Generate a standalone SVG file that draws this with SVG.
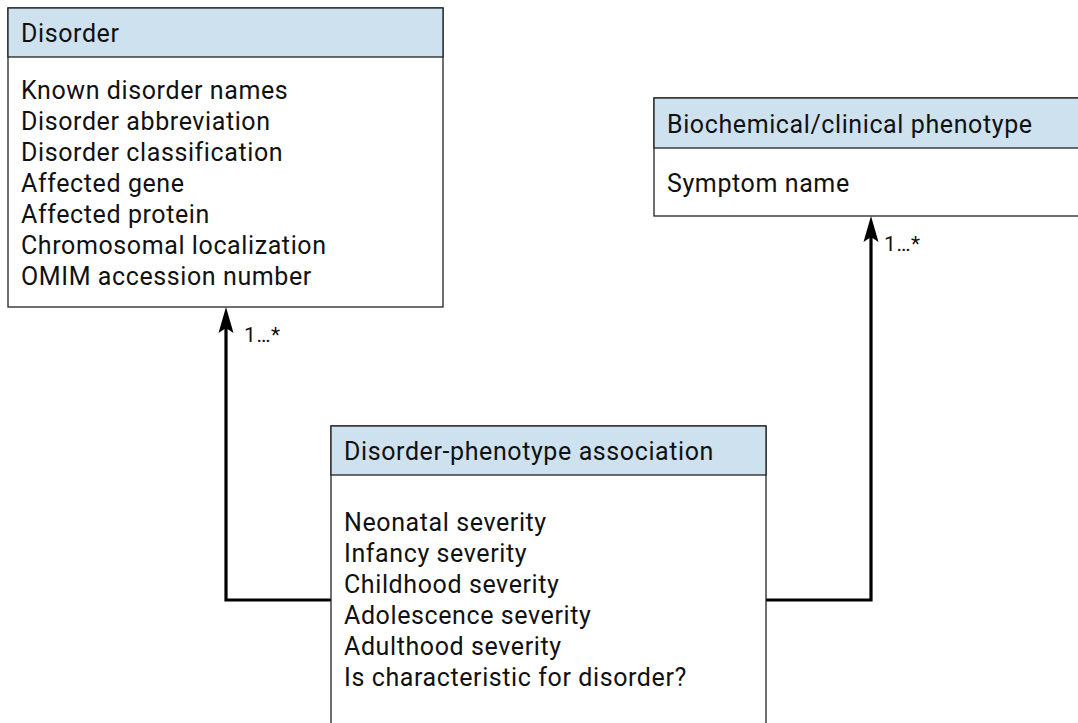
<svg xmlns="http://www.w3.org/2000/svg" width="1078" height="723" viewBox="0 0 1078 723">
<style>
.box{fill:#fff;stroke:#222;stroke-width:1.3}
.hdr{fill:#cde1ef;stroke:#222;stroke-width:1.3}
text{font-family:Roboto,"Liberation Sans",sans-serif;fill:#111}
.t{font-size:25px;letter-spacing:0.6px}
.lbl{font-size:21px;letter-spacing:0.6px}
.conn{fill:none;stroke:#000;stroke-width:3.2}
</style>
<defs>
<marker id="arr" viewBox="0 -8 26 16" refX="17" refY="0" markerWidth="26" markerHeight="16" markerUnits="userSpaceOnUse" orient="auto">
<path d="M0,-7.5 L26,0 L0,7.5 L5,0 Z" fill="#000"/>
</marker>
</defs>
<g id="connectors">
<path class="conn" d="M331,600 H226 V316" marker-end="url(#arr)"/>
<path class="conn" d="M766,600 H871 V225" marker-end="url(#arr)"/>
<text class="lbl" x="244" y="342">1…*</text>
<text class="lbl" x="884" y="251">1…*</text>
</g>
<g id="disorder">
<rect class="box" x="8" y="8" width="435" height="299"/>
<rect class="hdr" x="8" y="8" width="435" height="49"/>
<text class="t" x="21" y="42">Disorder</text>
<text class="t" x="21" y="99">Known disorder names</text>
<text class="t" x="21" y="130">Disorder abbreviation</text>
<text class="t" x="21" y="161">Disorder classification</text>
<text class="t" x="21" y="192">Affected gene</text>
<text class="t" x="21" y="223">Affected protein</text>
<text class="t" x="21" y="254">Chromosomal localization</text>
<text class="t" x="21" y="285">OMIM accession number</text>
</g>
<g id="phenotype">
<rect class="box" x="654" y="98" width="440" height="118"/>
<rect class="hdr" x="654" y="98" width="440" height="50"/>
<text class="t" x="667" y="133">Biochemical/clinical phenotype</text>
<text class="t" x="667" y="192">Symptom name</text>
</g>
<g id="association">
<rect class="box" x="331" y="426" width="435" height="310"/>
<rect class="hdr" x="331" y="426" width="435" height="49"/>
<text class="t" x="344" y="460">Disorder-phenotype association</text>
<text class="t" x="344" y="531">Neonatal severity</text>
<text class="t" x="344" y="562">Infancy severity</text>
<text class="t" x="344" y="593">Childhood severity</text>
<text class="t" x="344" y="624">Adolescence severity</text>
<text class="t" x="344" y="655">Adulthood severity</text>
<text class="t" x="344" y="686">Is characteristic for disorder?</text>
</g>
</svg>
